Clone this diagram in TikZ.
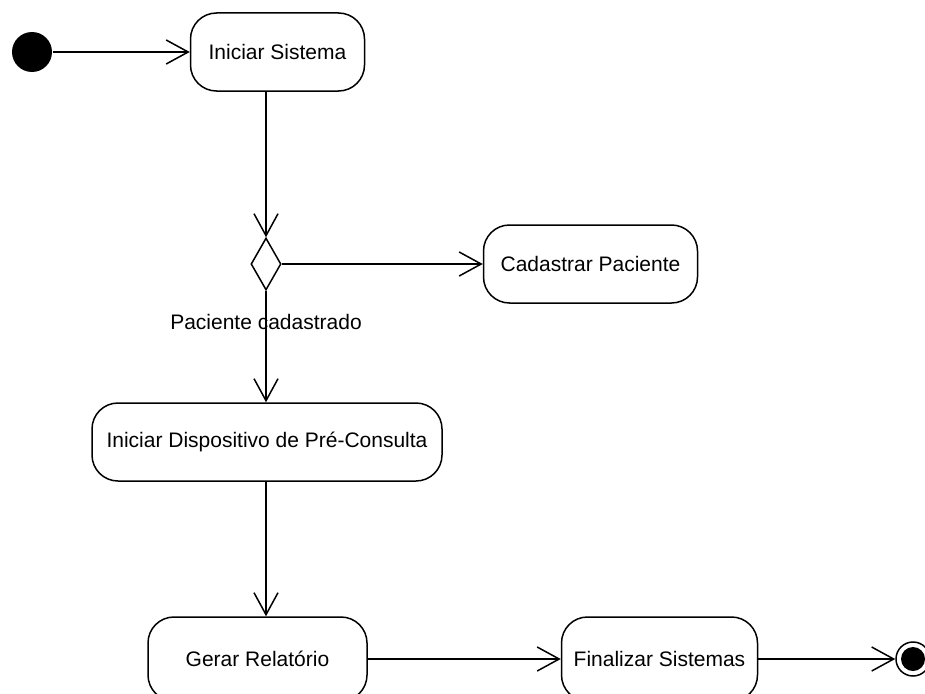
\documentclass[tikz,border=0pt]{standalone}
\usepackage{fontspec}
\setmainfont{Liberation Sans}
\usetikzlibrary{arrows.meta, positioning, shapes.geometric}

\begin{document}
\begin{tikzpicture}[
    x=1pt, y=-1pt,
    font=\fontsize{21pt}{25pt}\selectfont,
    line width=1.5pt,
    activity/.style={draw, rounded corners=26pt, align=center,
                     minimum height=78pt, inner sep=4pt},
    decision/.style={draw, diamond, inner sep=0pt,
                     minimum width=30pt, minimum height=52pt},
    startnode/.style={circle, fill=black, inner sep=0pt, minimum size=40pt},
    endnode/.style={circle, draw, inner sep=0pt, minimum size=34pt},
    flow/.style={-{Straight Barb[length=22pt, width=24pt]}},
    guard/.style={align=center}
  ]
    \useasboundingbox (0,0) rectangle (925,693);

    \node[startnode] (inicio) at (32,52) {};
    \node[activity, minimum width=174pt, right=137pt of inicio] (sistema) {Iniciar Sistema};
    \node[decision] (decisao) at (266,264) {};
    \node[activity, minimum width=214pt, right=201pt of decisao] (cadastrar) {Cadastrar Paciente};
    \node[activity, minimum width=350pt] (dispositivo) at (267,442) {Iniciar Dispositivo de Pré-Consulta};
    \node[activity, minimum width=219pt, minimum height=84pt] (gerar) at (257.5,659) {Gerar Relatório};
    \node[activity, minimum width=196pt, minimum height=84pt, right=193pt of gerar] (finalizar) {Finalizar Sistemas};
    \node[endnode, right=137pt of finalizar] (fim) {};
    \fill (fim.center) circle (12pt);

    \draw[flow] (inicio) -- (sistema);
    \draw[flow] (sistema.south -| decisao.north) -- (decisao.north);
    \draw[flow] (decisao.east) -- (cadastrar);
    \draw[flow] (decisao.south) -- (dispositivo.north -| decisao.south);
    \draw[flow] (dispositivo.south -| decisao.south) -- (gerar.north -| decisao.south);
    \draw[flow] (gerar) -- (finalizar);
    \draw[flow] (finalizar) -- (fim);

    \node[guard] (condicao) at (266,322) {Paciente cadastrado};
  \end{tikzpicture}
\end{document}
